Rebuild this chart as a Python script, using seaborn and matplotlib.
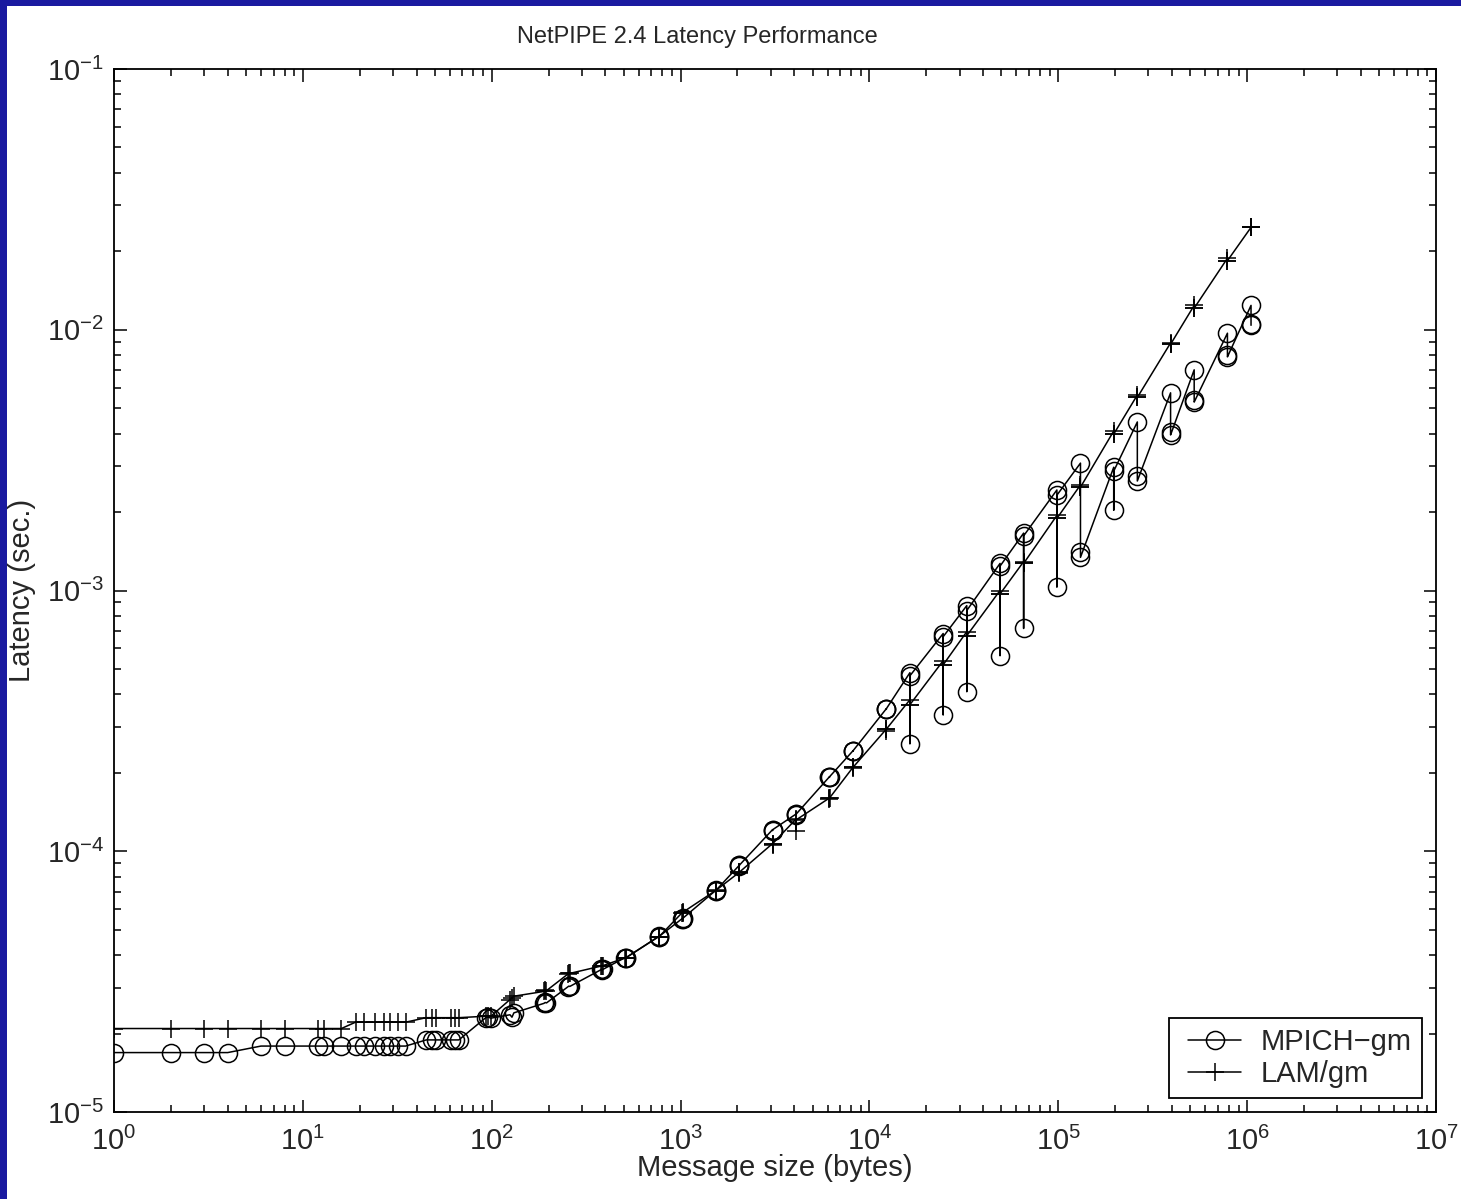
import matplotlib
matplotlib.use("Agg")
import matplotlib.pyplot as plt
from matplotlib.patches import Rectangle
from matplotlib.lines import Line2D
from matplotlib.legend_handler import HandlerLine2D
from matplotlib.ticker import LogLocator
import seaborn as sns
import pandas as pd

# message sizes (bytes) as sent by NetPIPE 2.4
msg_sizes = [1, 2, 3, 4, 6, 8, 12,
             13, 16, 19, 21, 24, 27, 29, 32, 35,
             45, 48, 51, 61, 64, 67, 93, 96, 99,
             125, 128, 131, 189, 192, 195, 253, 256, 259,
             381, 384, 387, 509, 512, 515, 765, 768, 771,
             1021, 1024, 1027, 1533, 1536, 1539, 2045, 2048, 2051,
             3069, 3072, 3075, 4093, 4096, 4099, 6141, 6144, 6147,
             8189, 8192, 8195, 12285, 12288, 12291, 16381, 16384, 16387,
             24573, 24576, 24579, 32765, 32768, 32771, 49149, 49152, 49155,
             65533, 65536, 65539, 98301, 98304, 98307, 131069, 131072, 131075,
             196605, 196608, 196611, 262141, 262144, 262147, 393213, 393216, 393219,
             524285, 524288, 524291, 786429, 786432, 786435, 1048573, 1048576, 1048579]

# latency (sec.)
mpich_gm = [1.69e-5, 1.69e-5, 1.69e-5, 1.69e-5, 1.79e-5, 1.79e-5, 1.79e-5,
            1.79e-5, 1.79e-5, 1.79e-5, 1.79e-5, 1.79e-5, 1.79e-5, 1.79e-5, 1.79e-5, 1.79e-5,
            1.89e-5, 1.89e-5, 1.89e-5, 1.89e-5, 1.89e-5, 1.89e-5, 2.30e-5, 2.31e-5, 2.29e-5,
            2.36e-5, 2.31e-5, 2.40e-5, 2.61e-5, 2.63e-5, 2.62e-5, 3.02e-5, 3.04e-5, 3.03e-5,
            3.52e-5, 3.50e-5, 3.52e-5, 3.91e-5, 3.90e-5, 3.91e-5, 4.71e-5, 4.70e-5, 4.72e-5,
            5.52e-5, 5.50e-5, 5.53e-5, 7.07e-5, 7.05e-5, 7.08e-5, 8.83e-5, 8.80e-5, 8.85e-5,
            1.21e-4, 1.20e-4, 1.21e-4, 1.39e-4, 1.38e-4, 1.39e-4, 1.93e-4, 1.92e-4, 1.93e-4,
            2.43e-4, 2.42e-4, 2.43e-4, 3.52e-4, 3.50e-4, 3.52e-4, 4.84e-4, 2.58e-4, 4.71e-4,
            6.84e-4, 3.33e-4, 6.65e-4, 8.75e-4, 4.09e-4, 8.38e-4, 1.27e-3, 5.62e-4, 1.24e-3,
            1.66e-3, 7.15e-4, 1.62e-3, 2.43e-3, 1.03e-3, 2.32e-3, 3.08e-3, 1.41e-3, 1.34e-3,
            2.97e-3, 2.03e-3, 2.87e-3, 4.43e-3, 2.74e-3, 2.63e-3, 5.73e-3, 4.06e-3, 3.95e-3,
            7.02e-3, 5.38e-3, 5.28e-3, 9.70e-3, 8.00e-3, 7.87e-3, 1.24e-2, 1.05e-2, 1.04e-2]

lam_gm = [2.09e-5, 2.09e-5, 2.09e-5, 2.09e-5, 2.09e-5, 2.09e-5, 2.09e-5,
          2.09e-5, 2.09e-5, 2.21e-5, 2.21e-5, 2.21e-5, 2.21e-5, 2.21e-5, 2.21e-5, 2.21e-5,
          2.30e-5, 2.30e-5, 2.30e-5, 2.30e-5, 2.30e-5, 2.30e-5, 2.33e-5, 2.33e-5, 2.33e-5,
          2.70e-5, 2.74e-5, 2.78e-5, 2.90e-5, 2.93e-5, 2.92e-5, 3.38e-5, 3.42e-5, 3.40e-5,
          3.63e-5, 3.62e-5, 3.64e-5, 3.90e-5, 3.89e-5, 3.91e-5, 4.70e-5, 4.69e-5, 4.71e-5,
          5.82e-5, 5.80e-5, 5.83e-5, 7.07e-5, 7.05e-5, 7.08e-5, 8.30e-5, 8.28e-5, 8.32e-5,
          1.07e-4, 1.06e-4, 1.07e-4, 1.33e-4, 1.20e-4, 1.32e-4, 1.60e-4, 1.59e-4, 1.60e-4,
          2.10e-4, 2.09e-4, 2.10e-4, 2.94e-4, 2.90e-4, 2.94e-4, 3.81e-4, 3.65e-4, 3.65e-4,
          5.38e-4, 5.19e-4, 5.19e-4, 6.95e-4, 6.71e-4, 6.71e-4, 1.00e-3, 9.70e-4, 9.70e-4,
          1.29e-3, 1.27e-3, 1.27e-3, 1.94e-3, 1.89e-3, 1.89e-3, 2.54e-3, 2.49e-3, 2.49e-3,
          4.09e-3, 3.98e-3, 3.98e-3, 5.62e-3, 5.50e-3, 5.50e-3, 8.90e-3, 8.80e-3, 8.80e-3,
          1.24e-2, 1.21e-2, 1.21e-2, 1.88e-2, 1.84e-2, 1.84e-2, 2.47e-2, 2.47e-2, 2.47e-2]

series_names = ["MPICH\u2212gm", "LAM/gm"]
series_markers = ["o", "+"]
x_decades = [1e0, 1e1, 1e2, 1e3, 1e4, 1e5, 1e6, 1e7]
y_decades = [1e-5, 1e-4, 1e-3, 1e-2, 1e-1]

sns.set_style("ticks")
plt.rcParams["font.family"] = ["Liberation Sans", "DejaVu Sans"]
plt.rcParams["mathtext.fontset"] = "custom"
plt.rcParams["mathtext.rm"] = "Liberation Sans"
plt.rcParams["mathtext.it"] = "Liberation Sans:italic"
plt.rcParams["mathtext.bf"] = "Liberation Sans:bold"
plt.rcParams["axes.unicode_minus"] = True

df = pd.DataFrame({
    "size": msg_sizes + msg_sizes,
    "latency": mpich_gm + lam_gm,
    "lib": [series_names[0]] * len(msg_sizes) + [series_names[1]] * len(msg_sizes),
})

fig = plt.figure(figsize=(14.61, 11.99), dpi=100, facecolor="white")
ax = fig.add_axes([114 / 1461, 1 - 1112 / 1199, (1436 - 114) / 1461, (1112 - 69) / 1199])

handles = []
for name, mk in zip(series_names, series_markers):
    sub = df[df["lib"] == name]
    sns.lineplot(data=sub, x="size", y="latency", ax=ax, sort=False, estimator=None,
                 color="black", linewidth=1.1, marker=mk, markersize=13,
                 markerfacecolor="none", markeredgecolor="black", markeredgewidth=1.1)
    handles.append(Line2D([], [], color="black", linewidth=1.1, marker=mk, markersize=13,
                          markerfacecolor="none", markeredgecolor="black",
                          markeredgewidth=1.1, label=name))

ax.set_xscale("log")
ax.set_yscale("log")
ax.set_xticks(x_decades)
ax.set_yticks(y_decades)
ax.xaxis.set_minor_locator(LogLocator(base=10, subs=range(2, 10), numticks=100))
ax.yaxis.set_minor_locator(LogLocator(base=10, subs=range(2, 10), numticks=100))
ax.set_xlim(1, 1e7)
ax.set_ylim(1e-5, 1e-1)

ax.tick_params(which="both", direction="in", top=True, right=True, width=1.1,
               color="black", labelsize=21)
ax.tick_params(axis="x", pad=11)
ax.tick_params(axis="y", pad=7)
ax.tick_params(which="major", length=9)
ax.tick_params(which="minor", length=5)
for sp in ax.spines.values():
    sp.set_linewidth(1.3)
    sp.set_color("black")

ax.set_title("NetPIPE 2.4 Latency Performance", fontsize=17, pad=19, x=0.441)
ax.set_xlabel("Message size (bytes)", fontsize=21)
ax.xaxis.set_label_coords(0.5, -0.0405)
ax.set_ylabel("Latency (sec.)", fontsize=21, labelpad=8)
ax.grid(False)

leg = ax.legend(handles=handles, loc="lower right", fontsize=21, frameon=True,
                fancybox=False, edgecolor="black", framealpha=1, handlelength=2.12,
                handletextpad=0.68, labelspacing=0.12, borderpad=0.35, borderaxespad=0.48,
                handler_map={Line2D: HandlerLine2D(xpad=0.31)})
leg.get_frame().set_linewidth(1.3)

# window border strips (top and left)
fig.patches.append(Rectangle((0, 1 - 6 / 1199), 1, 6 / 1199, transform=fig.transFigure,
                             facecolor="#1a1aa0", edgecolor="none", zorder=0))
fig.patches.append(Rectangle((0, 0), 7 / 1461, 1, transform=fig.transFigure,
                             facecolor="#1a1aa0", edgecolor="none", zorder=0))

fig.savefig("out.png", dpi=100, facecolor="white")
